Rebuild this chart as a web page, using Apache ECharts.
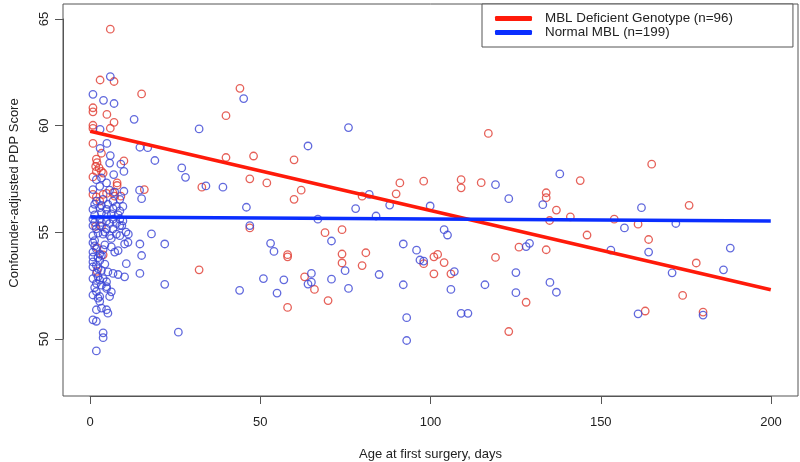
<!DOCTYPE html>
<html>
<head>
<meta charset="utf-8">
<script src="https://cdn.jsdelivr.net/npm/echarts@6/dist/echarts.min.js"></script>
<style>
html,body{margin:0;padding:0;background:#fff;}
#chart{width:800px;height:462px;}
</style>
</head>
<body>
<div id="chart"></div>
<script>
// ---- data ----
const xTicks = [0, 50, 100, 150, 200];
const yTicks = [50, 55, 60, 65];

const redName = 'MBL Deficient Genotype (n=96)';
const blueName = 'Normal MBL (n=199)';

// [age in days, confounder-adjusted PDP score]
const redPoints = [
  [5.9,64.50],[2.9,62.12],[7.0,62.05],[0.8,60.82],[0.8,60.63],[4.9,60.51],[7.0,60.14],[0.8,60.0],[0.8,59.85],[5.9,59.86],
  [0.8,59.15],[3.3,58.69],[1.8,58.41],[2.0,58.25],[1.6,58.07],[2.6,58.0],[1.8,57.84],[3.3,57.84],[3.8,57.76],[9.9,58.33],
  [0.8,57.58],[7.9,57.30],[7.9,57.18],[0.8,56.76],[1.8,56.65],[3.8,56.76],[4.8,56.81],[6.7,56.84],[7.2,56.68],[9.0,56.68],
  [2.8,56.45],[1.6,55.26],[3.3,55.26],[2.0,54.27],[3.8,53.93],[2.0,53.16],
  [15.1,61.47],[44.0,61.73],[39.9,60.45],[39.9,58.49],[48.0,58.56],[59.9,58.38],[46.9,57.49],[51.9,57.30],[32.8,57.10],[15.9,56.99],
  [59.9,56.53],[62.0,56.96],[46.9,55.19],[58.0,53.94],[58.0,53.84],[32.0,53.23],[58.0,51.47],
  [69.0,54.97],[74.0,55.11],[74.0,53.97],[74.0,53.55],[81.0,54.03],[79.9,53.43],[63.0,52.90],[65.9,52.31],[69.9,51.79],
  [79.9,56.68],[89.9,56.79],[91.0,57.30],[98.0,57.38],[98.0,53.52],[101.0,53.84],[102.1,53.95],[104.0,53.57],[101.0,53.04],
  [117.0,59.62],[109.0,57.45],[109.0,57.07],[114.9,57.31],[144.0,57.41],[134.0,56.84],[134.0,56.61],[137.0,56.03],[135.0,55.54],
  [141.1,55.71],[154.0,55.60],[146.0,54.86],[106.0,53.04],[119.1,53.81],[126.0,54.29],[134.0,54.17],[128.1,51.71],[123.0,50.34],
  [165.0,58.18],[176.0,56.25],[161.0,55.37],[164.1,54.65],[178.1,53.55],[174.1,52.03],[163.1,51.30],[180.1,51.25]
];

const bluePoints = [
  [5.9,62.28],[0.8,61.45],[3.9,61.17],[7.0,61.02],[2.9,59.81],
  [4.9,59.15],[2.9,58.92],[5.9,58.58],[5.7,58.23],[9.0,58.18],[9.9,57.84],[6.9,57.69],[1.8,57.45],[3.3,57.53],[4.8,57.30],
  [0.8,56.99],[2.8,57.14],[5.7,56.96],[7.2,56.87],[9.9,56.91],[1.8,56.45],[3.8,56.53],[6.7,56.45],[8.7,56.53],
  [0.8,56.06],[2.8,56.14],[4.8,56.06],[6.7,56.10],[8.7,55.99],[4.8,55.83],[0.8,55.60],[2.8,55.60],[4.8,55.52],[6.7,55.60],
  [8.7,55.60],[9.6,55.52],[0.8,55.30],[2.8,55.30],[1.8,55.15],[4.8,55.15],[6.7,55.15],[8.7,55.30],[9.3,55.30],
  [0.8,54.83],[3.8,54.90],[5.7,54.83],[7.7,54.90],[8.7,54.83],[11.2,54.90],
  [1.3,54.60],[10.1,54.44],[11.1,54.52],
  [1.8,54.21],[3.8,54.18],[0.8,54.06],[2.8,53.98],[0.8,53.83],[3.3,53.90],[7.2,54.06],[8.2,54.13],
  [0.8,53.60],[1.8,53.44],[2.8,53.67],[0.8,53.37],[2.3,53.29],[10.6,53.52],
  [1.8,53.06],[0.8,52.82],[2.8,52.75],[2.3,52.90],[3.8,52.82],[4.8,52.67],[5.2,53.13],[6.7,53.06],[8.2,53.01],[10.1,52.90],
  [1.8,52.59],[3.3,52.51],[4.8,52.44],[0.8,52.05],[2.8,51.98],[4.8,52.36],[5.7,51.98],[1.8,52.21],
  [2.8,51.75],[1.8,51.36],[3.3,51.44],[4.8,51.36],[5.2,51.20],[0.8,50.89],[1.8,50.82],
  [3.8,50.28],[3.8,50.05],[1.8,49.43],
  [1.3,56.30],[3.3,56.25],[5.2,56.30],[7.7,56.20],[1.3,55.80],[3.3,55.90],[6.2,55.85],[8.2,55.80],[1.3,55.45],[3.3,55.45],
  [5.7,55.40],[7.7,55.40],[2.3,54.95],[4.3,55.00],[6.2,54.70],[1.3,54.35],[4.3,54.40],[6.2,54.30],[2.3,53.80],[4.3,53.50],
  [3.3,53.20],[1.3,52.40],[2.3,51.90],[6.2,52.20],[0.8,54.50],[9.6,56.20],[10.5,55.00],
  [45.1,61.25],[32.0,59.83],[12.9,60.28],[16.9,58.95],[14.6,58.97],[19.0,58.35],[26.9,58.00],[28.0,57.56],[34.0,57.16],[39.0,57.10],
  [14.5,56.96],[15.1,56.56],[45.9,56.16],[46.9,55.30],[18.0,54.91],[14.6,54.44],[21.9,54.44],[15.1,53.90],[53.0,54.47],[54.0,54.09],
  [14.6,53.06],[21.9,52.55],[50.9,52.82],[56.9,52.76],[43.9,52.27],[54.9,52.14],[25.9,50.31],
  [75.9,59.89],[64.0,59.03],[66.9,55.60],[70.9,54.58],[74.9,53.19],[65.0,53.06],[64.0,52.56],[65.0,52.65],[70.9,52.79],[75.9,52.36],
  [84.9,53.01],[92.0,52.53],[93.0,50.99],[93.0,49.92],[82.0,56.76],[78.0,56.10],[84.0,55.75],[88.0,56.26],[99.9,56.22],[92.0,54.44],
  [95.9,54.15],[96.9,53.69],[98.0,53.64],[104.0,55.11],[105.0,54.86],
  [119.1,57.22],[123.0,56.56],[138.0,57.72],[133.0,56.28],[107.0,53.15],[106.0,52.31],[109.0,51.19],[111.0,51.19],[116.0,52.53],
  [128.1,54.32],[129.1,54.47],[125.1,53.10],[125.1,52.16],[135.1,52.64],[137.0,52.18],[153.0,54.15],
  [162.0,56.14],[157.0,55.19],[172.1,55.40],[164.1,54.06],[188.1,54.25],[171.0,53.09],[186.1,53.23],[161.0,51.17],[180.1,51.11]
];

// fitted regression lines (end points)
const redFitLine = [[0, 59.72], [200, 52.30]];
const blueFitLine = [[0, 55.70], [200, 55.52]];

// ---- layout ----
const X_RANGE = [-8, 208];          // plotting range (R style 4% extension of 0..200)
const Y_RANGE = [47.32, 65.68];
const BOX = {left: 63, right: 2, top: 4, bottom: 66};   // plot box in px
const W = 800, H = 462;
const boxW = W - BOX.left - BOX.right, boxH = H - BOX.top - BOX.bottom;
const pxX = boxW / (X_RANGE[1] - X_RANGE[0]);
const pxY = boxH / (Y_RANGE[1] - Y_RANGE[0]);
const xT0 = xTicks[0], xT1 = xTicks[xTicks.length - 1];
const yT0 = yTicks[0], yT1 = yTicks[yTicks.length - 1];
// axis-only grid, spanning exactly the tick range (like R's axis())
const axisGrid = {
  left: Math.round(BOX.left + (xT0 - X_RANGE[0]) * pxX),
  right: Math.round(BOX.right + (X_RANGE[1] - xT1) * pxX),
  top: Math.round(BOX.top + (Y_RANGE[1] - yT1) * pxY),
  bottom: Math.round(BOX.bottom + (yT0 - Y_RANGE[0]) * pxY)
};
const xOffset = axisGrid.bottom - BOX.bottom;
const yOffset = axisGrid.left - BOX.left;

// ---- chart ----
const FONT = 'Liberation Sans, Arial, sans-serif';
const TXT = '#222';
const AX = '#555';
const chart = echarts.init(document.getElementById('chart'), null, {renderer: 'canvas'});

chart.setOption({
  animation: false,
  backgroundColor: '#fff',
  textStyle: {fontFamily: FONT},
  grid: [
    {
      left: BOX.left, right: BOX.right, top: BOX.top, bottom: BOX.bottom,
      outerBoundsContain: 'axisLabel',
      show: true, borderColor: AX, borderWidth: 1
    },
    {
      left: axisGrid.left, right: axisGrid.right, top: axisGrid.top, bottom: axisGrid.bottom,
      outerBoundsContain: 'axisLabel', show: false
    }
  ],
  legend: {
    data: [redName, blueName],
    orient: 'vertical',
    left: 482, top: 4,
    padding: [8, 60, 8, 13],
    itemGap: 1,
    itemWidth: 37, itemHeight: 5,
    icon: 'roundRect',
    borderColor: AX, borderWidth: 1,
    backgroundColor: '#fff',
    textStyle: {fontFamily: FONT, fontSize: 13.4, color: TXT, padding: [0, 0, 0, 8]},
    selectedMode: false
  },
  xAxis: [
    {
      gridIndex: 0, type: 'value', min: X_RANGE[0], max: X_RANGE[1],
      axisLine: {show: false}, axisTick: {show: false}, axisLabel: {show: false}, splitLine: {show: false}
    },
    {
      gridIndex: 1, type: 'value', min: xT0, max: xT1, interval: 50, offset: xOffset,
      name: 'Age at first surgery, days',
      nameLocation: 'middle', nameGap: 52,
      nameTextStyle: {fontFamily: FONT, fontSize: 13, color: TXT},
      axisLine: {show: true, onZero: false, lineStyle: {color: AX, width: 1}},
      splitLine: {show: false},
      axisTick: {show: true, length: 8, lineStyle: {color: AX, width: 1}},
      axisLabel: {fontFamily: FONT, fontSize: 13, color: TXT, margin: 20}
    }
  ],
  yAxis: [
    {
      gridIndex: 0, type: 'value', min: Y_RANGE[0], max: Y_RANGE[1],
      axisLine: {show: false}, axisTick: {show: false}, axisLabel: {show: false}, splitLine: {show: false}
    },
    {
      gridIndex: 1, type: 'value', min: yT0, max: yT1, interval: 5, offset: yOffset,
      name: 'Confounder-adjusted PDP Score',
      nameLocation: 'middle', nameGap: 42,
      nameTextStyle: {fontFamily: FONT, fontSize: 13, color: TXT, padding: [0, 28, 0, 0]},
      axisLine: {show: true, onZero: false, lineStyle: {color: AX, width: 1}},
      splitLine: {show: false},
      axisTick: {show: true, length: 8, lineStyle: {color: AX, width: 1}},
      axisLabel: {fontFamily: FONT, fontSize: 13, color: TXT, margin: 12, rotate: 90}
    }
  ],
  series: [
    {
      name: 'red points', type: 'scatter', data: redPoints, xAxisIndex: 0, yAxisIndex: 0,
      symbol: 'circle', symbolSize: 7.5, z: 2,
      itemStyle: {color: 'rgba(0,0,0,0)', borderColor: '#e0392f', borderWidth: 1.3},
      emphasis: {disabled: true}
    },
    {
      name: 'blue points', type: 'scatter', data: bluePoints, xAxisIndex: 0, yAxisIndex: 0,
      symbol: 'circle', symbolSize: 7.5, z: 2,
      itemStyle: {color: 'rgba(0,0,0,0)', borderColor: '#3a44d4', borderWidth: 1.3},
      emphasis: {disabled: true}
    },
    {
      name: redName, type: 'line', data: redFitLine, xAxisIndex: 0, yAxisIndex: 0,
      showSymbol: false, z: 3,
      itemStyle: {color: '#ff1a0a'},
      lineStyle: {color: '#ff1a0a', width: 3.5}
    },
    {
      name: blueName, type: 'line', data: blueFitLine, xAxisIndex: 0, yAxisIndex: 0,
      showSymbol: false, z: 3,
      itemStyle: {color: '#0a2eff'},
      lineStyle: {color: '#0a2eff', width: 3.5}
    }
  ]
});
</script>
</body>
</html>
